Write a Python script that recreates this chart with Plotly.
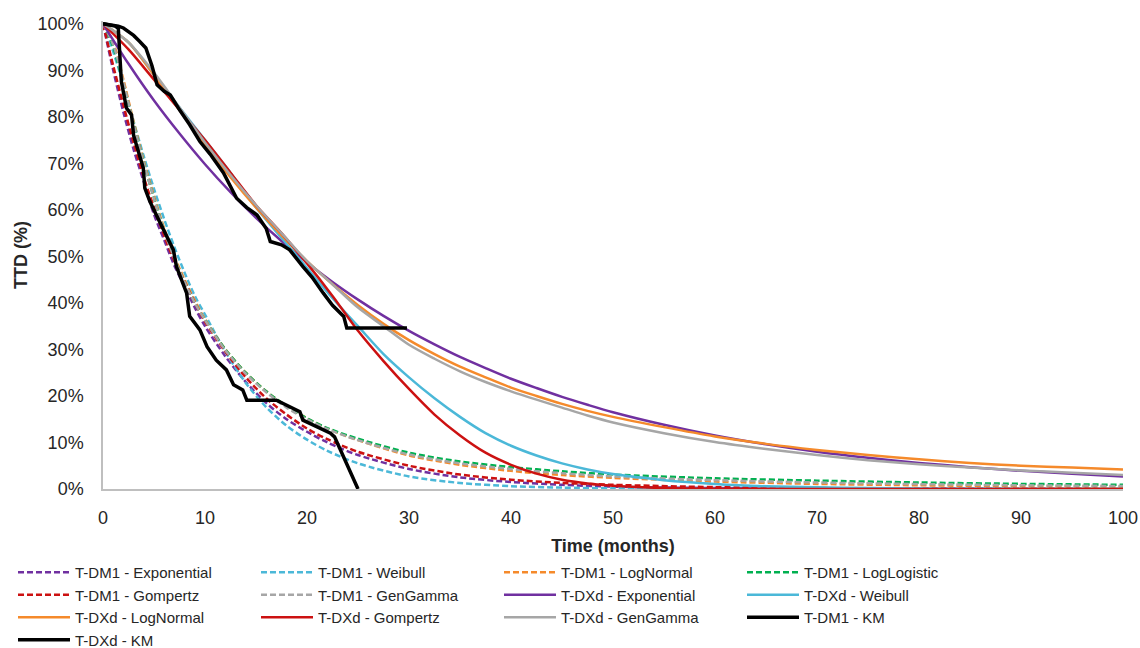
import plotly.graph_objects as go

# ---------------- data ----------------
# T-DXd parametric fits: time grid (months) and survival (%)
t_dxd = [0, 2.5, 5, 7.5, 10, 12.5, 15, 17.5, 20, 22.5, 25, 27.5, 30, 32.5, 35, 37.5,
         40, 42.5, 45, 47.5, 50, 55, 60, 65, 70, 75, 80, 85, 90, 95, 100]
dxd_exponential = [100, 91.4, 83.5, 76.4, 69.8, 63.8, 58.3, 53.3, 48.7, 44.5, 40.7, 37.2, 34.0, 31.1,
                   28.4, 26.0, 23.7, 21.7, 19.8, 18.1, 16.5, 13.8, 11.5, 9.6, 8.0, 6.7, 5.6, 4.7,
                   3.9, 3.3, 2.7]
dxd_weibull = [100, 96, 89, 82, 75, 68, 60.5, 54, 47.5, 41, 35, 29, 24, 19.5, 15.5, 12,
               9.3, 7.2, 5.5, 4.2, 3.2, 1.9, 1.1, 0.6, 0.35, 0.2, 0.1, 0.05, 0.02, 0.01, 0]
dxd_lognormal = [100, 96, 89, 81.5, 74, 67, 60.5, 54.5, 49, 44, 39.5, 35.5, 32, 29, 26.3, 24,
                 21.8, 20, 18.3, 16.8, 15.5, 13.3, 11.3, 9.7, 8.4, 7.3, 6.4, 5.6, 5.0, 4.6, 4.2]
dxd_gompertz = [100, 94.5, 88, 81.5, 75, 68, 61, 55, 48.5, 41.5, 34, 27.5, 21.5, 16, 11.5, 7.8,
                5.2, 3.3, 2.0, 1.2, 0.7, 0.2, 0.05, 0, 0, 0, 0, 0, 0, 0, 0]
dxd_gengamma = [100, 96, 89.5, 82, 74.5, 67.5, 61, 55, 49, 44, 39, 35, 31, 28, 25.3, 23,
                21, 19.2, 17.5, 15.8, 14.3, 12.0, 10.1, 8.6, 7.3, 6.2, 5.3, 4.6, 4.0, 3.5, 3.0]

# T-DM1 parametric fits
t_dm1 = [0, 1, 2, 3, 4, 5, 6, 7, 8, 9, 10, 12, 14, 16, 18, 20, 22, 25, 30, 35, 40, 45, 50,
         60, 70, 80, 90, 100]
dm1_exponential = [100, 90, 81, 73, 66, 59, 53.5, 48, 43.5, 39, 35, 28.5, 23, 18.5, 15, 12.3, 10,
                   7.3, 4.3, 2.5, 1.5, 0.9, 0.5, 0.2, 0.06, 0.02, 0, 0]
dm1_weibull = [100, 94, 87, 79, 71.5, 64.5, 58, 52, 46.5, 41.5, 37.5, 29.5, 22.8, 17.6, 13.6, 10.6,
               8.2, 5.5, 2.7, 1.3, 0.6, 0.3, 0.15, 0.03, 0, 0, 0, 0]
dm1_lognormal = [100, 96, 88, 79, 70.5, 63, 56, 50, 45, 40.5, 36.5, 30, 25, 21, 17.8, 15.2, 13,
                 10.5, 7.2, 5.2, 3.9, 3.0, 2.4, 1.6, 1.1, 0.8, 0.6, 0.5]
dm1_loglogistic = [100, 95, 87, 78.5, 70, 62.5, 55.5, 49.5, 44.5, 40, 36.3, 30, 25, 21, 17.8, 15.2,
                   13.1, 10.8, 7.8, 5.9, 4.7, 3.8, 3.1, 2.3, 1.8, 1.4, 1.1, 0.9]
dm1_gompertz = [100, 91, 82.5, 74.5, 67, 60.5, 54.5, 49, 44.5, 40, 36, 29.5, 24, 19.5, 16, 13,
                10.7, 8, 5, 3.1, 2, 1.3, 0.9, 0.4, 0.2, 0.1, 0.05, 0.02]
dm1_gengamma = [100, 95.5, 87.5, 78.5, 70, 62.5, 55.5, 49.5, 44.5, 40, 36.3, 29.8, 24.8, 20.8, 17.5,
                15, 12.9, 10.5, 7.4, 5.5, 4.3, 3.4, 2.7, 1.9, 1.4, 1.05, 0.8, 0.65]

# Kaplan-Meier curves
km_dm1_t = [0, 1.2, 1.5, 1.8, 2.3, 2.8, 3.0, 3.6, 3.95, 4.1, 4.6, 5.3, 6.2, 6.9, 7.2, 8.2, 8.5,
            9.5, 10.2, 11.1, 12.1, 12.8, 13.7, 14.1, 17.0, 19.3, 19.6, 22.3, 22.7, 25.0]
km_dm1_s = [100, 99.5, 99, 87.6, 81.9, 80.4, 76, 71.8, 69, 64.7, 61.8, 58.6, 54.3, 51.4, 47.8,
            42.1, 37.1, 34.2, 30.6, 27.7, 25.6, 22.4, 21.3, 19.1, 19.1, 16.6, 14.8, 12, 11.2, 0]
km_dxd_t = [0, 1.5, 2.0, 3.0, 3.6, 4.2, 4.8, 5.3, 6.0, 6.6, 7.5, 8.5, 9.5, 10.5, 11.8, 13.1,
            14.1, 15.1, 16.0, 16.4, 17.5, 18.3, 19.6, 20.5, 21.6, 22.5, 23.6, 23.9, 29.8]
km_dxd_s = [100, 99.5, 99.1, 97.5, 96.2, 94.8, 91, 86.9, 85.5, 84.7, 81.5, 78.3, 74.7, 72, 68,
            62.5, 60.5, 58.9, 56, 53.2, 52.5, 51.4, 47.8, 45.5, 42.1, 39.5, 37.1, 34.6, 34.6]

x_ticks = [0, 10, 20, 30, 40, 50, 60, 70, 80, 90, 100]
y_ticks = [0, 10, 20, 30, 40, 50, 60, 70, 80, 90, 100]

# ---------------- styling ----------------
PURPLE = "#7030A0"
CYAN = "#4BB8D8"
ORANGE = "#F58A2B"
GREEN = "#00B050"
RED = "#CC1111"
GRAY = "#A6A6A6"
DASH = "6px,3px"
FONT = "Liberation Sans, Arial, sans-serif"

series = [
    ("T-DM1 - Exponential", t_dm1, dm1_exponential, PURPLE, DASH, 2.5),
    ("T-DM1 - Weibull", t_dm1, dm1_weibull, CYAN, DASH, 2.5),
    ("T-DM1 - LogNormal", t_dm1, dm1_lognormal, ORANGE, DASH, 2.5),
    ("T-DM1 - LogLogistic", t_dm1, dm1_loglogistic, GREEN, DASH, 2.5),
    ("T-DM1 - Gompertz", t_dm1, dm1_gompertz, RED, DASH, 2.5),
    ("T-DM1 - GenGamma", t_dm1, dm1_gengamma, GRAY, DASH, 2.5),
    ("T-DXd - Exponential", t_dxd, dxd_exponential, PURPLE, "solid", 2.5),
    ("T-DXd - Weibull", t_dxd, dxd_weibull, CYAN, "solid", 2.5),
    ("T-DXd - LogNormal", t_dxd, dxd_lognormal, ORANGE, "solid", 2.5),
    ("T-DXd - Gompertz", t_dxd, dxd_gompertz, RED, "solid", 2.5),
    ("T-DXd - GenGamma", t_dxd, dxd_gengamma, GRAY, "solid", 2.5),
]

fig = go.Figure()
for name, xs, ys, color, dash, w in series:
    fig.add_trace(go.Scatter(x=xs, y=ys, mode="lines", name=name,
                             line=dict(color=color, dash=dash, width=w, shape="spline", smoothing=0.8)))

fig.add_trace(go.Scatter(x=km_dm1_t, y=km_dm1_s, mode="lines", name="T-DM1 - KM",
                         line=dict(color="black", width=3.5)))
fig.add_trace(go.Scatter(x=km_dxd_t, y=km_dxd_s, mode="lines", name="T-DXd - KM",
                         line=dict(color="black", width=3.5)))

fig.update_layout(
    width=1140, height=648,
    margin=dict(l=103, r=17, t=21, b=159, autoexpand=False),
    paper_bgcolor="white", plot_bgcolor="white",
    font=dict(family=FONT, size=18, color="#262626"),
    showlegend=True,
    legend=dict(orientation="h", xref="container", yref="container",
                x=13 / 1140, xanchor="left", y=1 - 556 / 648, yanchor="top",
                entrywidth=176, entrywidthmode="pixels", itemwidth=52,
                font=dict(family=FONT, size=15, color="#262626"),
                bgcolor="rgba(0,0,0,0)", borderwidth=0, tracegroupgap=0),
    xaxis=dict(range=[0, 100], tickvals=x_ticks, ticktext=[str(v) for v in x_ticks],
               automargin=False,
               showgrid=False, zeroline=False, showline=True, linecolor="#BFBFBF", linewidth=1.5,
               ticks="", ticklabelstandoff=12,
               title=dict(text="<b>Time (months)</b>", font=dict(family=FONT, size=18, color="#262626"),
                          standoff=12)),
    yaxis=dict(range=[0, 100.6], tickvals=y_ticks, ticktext=[f"{v}%" for v in y_ticks],
               automargin=False,
               showgrid=False, zeroline=False, showline=True, linecolor="#BFBFBF", linewidth=1.5,
               ticks="", ticklabelstandoff=14,
               title=dict(text="<b>TTD (%)</b>", font=dict(family=FONT, size=18, color="#262626"),
                          standoff=5)),
)

fig.write_html("out.html")
